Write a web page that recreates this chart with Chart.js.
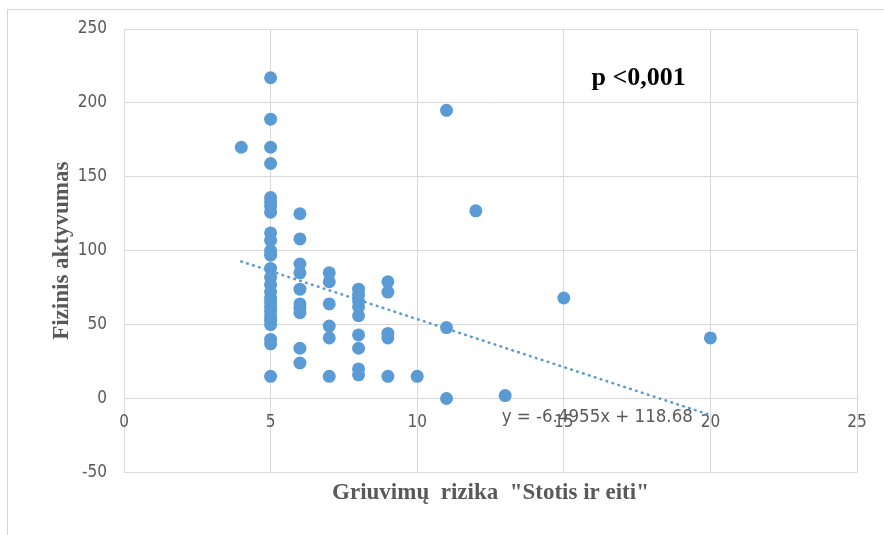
<!DOCTYPE html>
<html>
<head>
<meta charset="utf-8">
<script src="https://cdn.jsdelivr.net/npm/chart.js@4/dist/chart.umd.min.js"></script>
<style>
  html, body { margin: 0; padding: 0; background: #ffffff; }
  #wrap { position: relative; width: 884px; height: 535px; overflow: hidden; }
  #frame { position: absolute; left: 7px; top: 9px; width: 900px; height: 560px;
           border-top: 1px solid #d4d4d4; border-left: 1px solid #d4d4d4; box-sizing: border-box; }
  canvas { position: absolute; left: 0; top: 0; }
</style>
</head>
<body>
<div id="wrap">
  <div id="frame"></div>
  <canvas id="chart" width="884" height="535"></canvas>
</div>
<script>
// Fall-risk score ("Stotis ir eiti") and physical activity for each respondent
const riskScores = [
  4,
  5, 5, 5, 5, 5, 5, 5, 5, 5, 5, 5, 5, 5, 5, 5, 5, 5, 5, 5, 5, 5, 5, 5, 5, 5, 5,
  6, 6, 6, 6, 6, 6, 6, 6, 6, 6,
  7, 7, 7, 7, 7, 7,
  8, 8, 8, 8, 8, 8, 8, 8, 8,
  9, 9, 9, 9, 9,
  10,
  11, 11, 11,
  12,
  13,
  15,
  20
];
const activityScores = [
  170,
  217, 189, 170, 159, 136, 133, 130, 126, 112, 107, 100, 97, 88, 82, 77, 72, 68, 65, 62, 59, 56, 53, 50, 40, 37, 15,
  125, 108, 91, 85, 74, 64, 61, 58, 34, 24,
  85, 79, 64, 49, 41, 15,
  74, 70, 66, 62, 56, 43, 34, 20, 16,
  79, 72, 44, 41, 15,
  15,
  195, 48, 0,
  127,
  2,
  68,
  41
];

// Linear trend line coefficients (y = slope * x + intercept)
const trendSlope = -6.4955;
const trendIntercept = 118.68;
const trendRange = [4, 20];

const xTicks = [0, 5, 10, 15, 20, 25];
const yTicks = [-50, 0, 50, 100, 150, 200, 250];

const xTitle = 'Griuvimų  rizika  "Stotis ir eiti"';
const yTitle = 'Fizinis aktyvumas';
const pText = 'p <0,001';

const pointColor = '#5b9bd5';
const gridColor = '#d9d9d9';
const tickColor = '#595959';
const tickFont = { family: '"Liberation Sans Narrow", "DejaVu Sans Condensed", sans-serif', size: 17 };
const titleFont = { family: '"Liberation Serif", "Times New Roman", serif', size: 23, weight: 'bold' };

const points = riskScores.map((x, i) => ({ x: x, y: activityScores[i] }));
const trendPoints = trendRange.map(x => ({ x: x, y: trendSlope * x + trendIntercept }));

function fmt(v) {
  return (Math.round(v * 10000) / 10000).toString();
}
const equationText = 'y = ' + fmt(trendSlope) + 'x + ' + fmt(trendIntercept);

// Text annotations placed in data coordinates
const annotations = {
  id: 'annotations',
  afterDatasetsDraw(chart) {
    const { ctx, scales } = chart;
    const xs = scales.x, ys = scales.y;
    ctx.save();
    ctx.textBaseline = 'middle';
    ctx.fillStyle = '#000000';
    ctx.font = 'bold 26px "Liberation Serif", "Times New Roman", serif';
    ctx.textAlign = 'center';
    ctx.fillText(pText, xs.getPixelForValue(17.55), ys.getPixelForValue(216.5));

    ctx.fillStyle = tickColor;
    ctx.font = '18.5px "Liberation Sans Narrow", "DejaVu Sans Condensed", sans-serif';
    ctx.textAlign = 'left';
    ctx.fillText(equationText, xs.getPixelForValue(12.88), ys.getPixelForValue(-12.5));
    ctx.restore();
  }
};

new Chart(document.getElementById('chart'), {
  type: 'scatter',
  data: {
    datasets: [
      {
        label: 'Fizinis aktyvumas',
        data: points,
        xAxisID: 'x',
        yAxisID: 'y',
        backgroundColor: pointColor,
        borderColor: pointColor,
        borderWidth: 0,
        pointRadius: 6.5,
        pointHoverRadius: 6.5,
        order: 1
      },
      {
        label: 'Trend',
        data: trendPoints,
        xAxisID: 'x',
        yAxisID: 'y',
        showLine: true,
        borderColor: pointColor,
        borderWidth: 2.6,
        borderDash: [0.6, 5.6],
        borderCapStyle: 'round',
        pointRadius: 0,
        fill: false,
        order: 0
      }
    ]
  },
  options: {
    responsive: false,
    animation: false,
    events: [],
    layout: { padding: { left: 0, right: 27, top: 29, bottom: 28 } },
    plugins: {
      legend: { display: false },
      tooltip: { enabled: false }
    },
    scales: {
      x: {
        type: 'linear',
        position: { y: 0 },
        min: xTicks[0],
        max: xTicks[xTicks.length - 1],
        afterBuildTicks(scale) { scale.ticks = xTicks.map(v => ({ value: v })); },
        grid: { color: gridColor, lineWidth: 1, drawTicks: false },
        border: { display: false },
        ticks: { color: tickColor, font: tickFont, padding: 14 }
      },
      // bottom edge axis that only carries the horizontal axis title
      xTitleAxis: {
        type: 'linear',
        axis: 'x',
        position: 'bottom',
        grid: { display: false, drawTicks: false },
        border: { display: false },
        ticks: { display: false },
        title: {
          display: true,
          text: xTitle,
          color: tickColor,
          font: titleFont,
          padding: { top: 7, bottom: 0 }
        }
      },
      y: {
        type: 'linear',
        position: 'left',
        min: yTicks[0],
        max: yTicks[yTicks.length - 1],
        afterBuildTicks(scale) { scale.ticks = yTicks.map(v => ({ value: v })); },
        afterFit(scale) { scale.width = 124; },
        grid: { color: gridColor, lineWidth: 1, drawTicks: false },
        border: { display: false },
        ticks: { color: tickColor, font: tickFont, padding: 17 },
        title: {
          display: true,
          text: yTitle,
          color: tickColor,
          font: titleFont,
          padding: { top: 48, bottom: 0 }
        }
      }
    }
  },
  plugins: [annotations]
});
</script>
</body>
</html>
